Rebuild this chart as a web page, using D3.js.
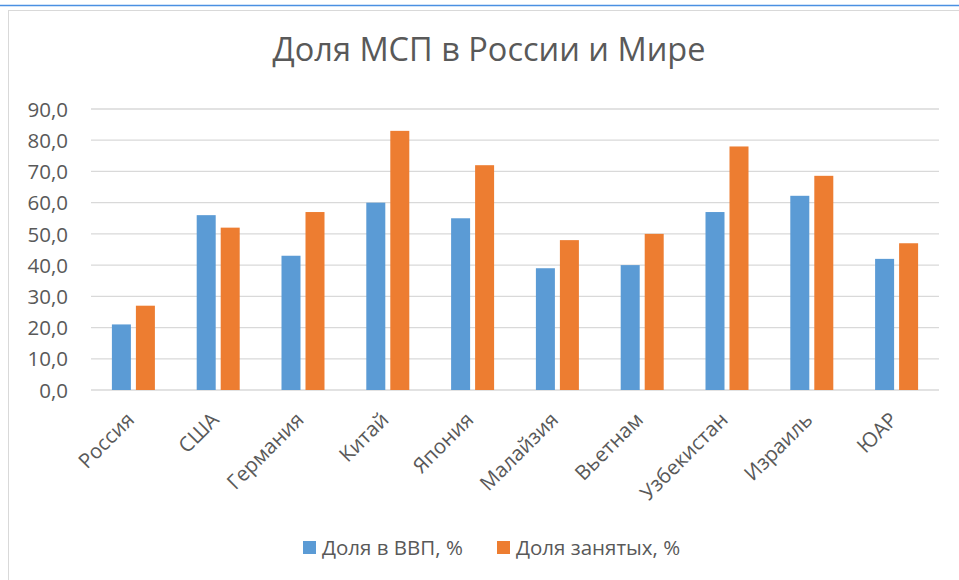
<!DOCTYPE html>
<html><head><meta charset="utf-8">
<script src="https://cdn.jsdelivr.net/npm/d3@7"></script>
<style>
html,body{margin:0;padding:0;background:#fff;}
svg{display:block;}
text{font-family:"Open Sans",sans-serif;fill:#595959;}
</style></head>
<body>
<svg id="c" width="959" height="580"></svg>
<script>
const categories = ["Россия","США","Германия","Китай","Япония","Малайзия","Вьетнам","Узбекистан","Израиль","ЮАР"];
const gdpShare = [21, 56, 43, 60, 55, 39, 40, 57, 62.2, 42];
const employmentShare = [27, 52, 57, 83, 72, 48, 50, 78, 68.6, 47];
const seriesNames = ["Доля в ВВП, %", "Доля занятых, %"];
const yTicks = [0,10,20,30,40,50,60,70,80,90];
const colors = ["#5B9BD5", "#ED7D31"];
const title = "Доля МСП в России и Мире";

const svg = d3.select("#c");
const W = 959, H = 580;
const FS = "20.5px";

// page top line + chart border
svg.append("line").attr("x1",0).attr("x2",W).attr("y1",5.5).attr("y2",5.5)
  .attr("stroke","#4A90E2").attr("stroke-width",1.5);
svg.append("rect").attr("x",8.5).attr("y",10.5).attr("width",W+10).attr("height",H+10)
  .attr("fill","none").attr("stroke","#D9D9D9").attr("stroke-width",1);

const m = {left:91, right:939, top:109, bottom:390};
const x = d3.scaleBand().domain(categories).range([m.left, m.right]);
const y = d3.scaleLinear().domain([0,90]).range([m.bottom, m.top]);

// gridlines
svg.append("g").selectAll("line").data(yTicks).join("line")
  .attr("x1",m.left).attr("x2",m.right)
  .attr("y1",d=>y(d)).attr("y2",d=>y(d))
  .attr("stroke","#D9D9D9").attr("stroke-width",1.3);

// y labels
const yAxis = d3.axisLeft(y).tickValues(yTicks).tickSize(0).tickPadding(0)
  .tickFormat(d=>d3.format(".1f")(d).replace(".",","));
const gy = svg.append("g").attr("transform",`translate(68,0)`).call(yAxis);
gy.select(".domain").remove();
gy.selectAll("text").style("font-size",FS).attr("fill","#595959").attr("font-family","Open Sans").attr("dy","0.35em");

// bars
const barW = 19, gap = 5;
const series = [gdpShare, employmentShare];
series.forEach((vals, si) => {
  svg.append("g").selectAll("rect").data(categories).join("rect")
    .attr("x", (c) => x(c) + x.bandwidth()/2 + (si===0 ? -(barW + gap/2) : gap/2))
    .attr("width", barW)
    .attr("y", (c,i) => y(vals[i]))
    .attr("height", (c,i) => y(0) - y(vals[i]))
    .attr("fill", colors[si]);
});

// x labels
const xAxis = d3.axisBottom(x).tickSize(0).tickPadding(0);
const gx = svg.append("g").call(xAxis);
gx.select(".domain").remove();
gx.selectAll(".tick").attr("transform", d => `translate(${x(d)+x.bandwidth()/2-3},416)`);
gx.selectAll("text").attr("transform","rotate(-45)").attr("text-anchor","end")
  .attr("x",0).attr("y",0).attr("dy","0.35em")
  .style("font-size",FS).attr("fill","#595959").attr("font-family","Open Sans");

// title
svg.append("text").attr("x",489).attr("y",61).attr("text-anchor","middle")
  .style("font-size","32.5px").text(title);

// legend
const legX = [303, 497];
seriesNames.forEach((n,i)=>{
  svg.append("rect").attr("x",legX[i]).attr("y",541).attr("width",13).attr("height",13).attr("fill",colors[i]);
  svg.append("text").attr("x",legX[i]+19).attr("y",555).style("font-size",FS).text(n);
});
</script>
</body></html>
